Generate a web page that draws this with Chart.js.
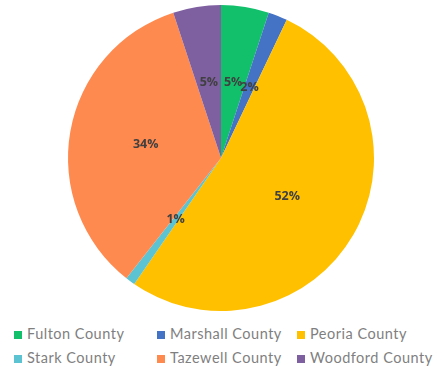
<!DOCTYPE html>
<html>
<head>
<meta charset="utf-8">
<script src="https://cdn.jsdelivr.net/npm/chart.js@4.4.1/dist/chart.umd.min.js"></script>
<style>
  body { margin: 0; background: #fff; width: 439px; height: 377px; overflow: hidden; font-family: Lato, "Open Sans", sans-serif; }
  #wrap { position: relative; width: 439px; height: 320px; }
  #legend { position: absolute; left: 0; top: 324px; width: 439px; }
  .item { position: absolute; font-size: 14.5px; letter-spacing: 0.5px; color: #7f7f7f; white-space: nowrap; line-height: 16px; }
  .item span { display: inline-block; width: 8px; height: 8px; margin-right: 5px; vertical-align: 0px; }
</style>
</head>
<body>
<div id="wrap"><canvas id="pie" width="439" height="320"></canvas></div>
<div id="legend"></div>
<script>
const counties = ['Fulton County', 'Marshall County', 'Peoria County', 'Stark County', 'Tazewell County', 'Woodford County'];
const shares = [5, 2, 52, 1, 34, 5];
const colors = ['#12c06c', '#4472c4', '#ffc000', '#5bc3d1', '#ff8a4f', '#7e5fa0'];

// legend grid: 3 columns, 2 rows
const colX = [14, 157, 297];
const rowY = [2, 26];

// percent labels inside each slice, about halfway out
const sliceLabels = {
  id: 'sliceLabels',
  afterDatasetsDraw(chart) {
    const c = chart.ctx;
    const meta = chart.getDatasetMeta(0);
    c.save();
    c.font = 'bold 12.5px "Open Sans", sans-serif';
    c.fillStyle = '#404040';
    c.textAlign = 'center';
    c.textBaseline = 'middle';
    meta.data.forEach((arc, i) => {
      const p = arc.getProps(['x', 'y', 'startAngle', 'endAngle', 'outerRadius']);
      const mid = (p.startAngle + p.endAngle) / 2;
      const r = p.outerRadius * 0.5;
      c.fillText(shares[i] + '%', p.x + Math.cos(mid) * r, p.y + Math.sin(mid) * r);
    });
    c.restore();
  }
};

new Chart(document.getElementById('pie'), {
  type: 'pie',
  data: {
    labels: counties,
    datasets: [{
      data: shares,
      backgroundColor: colors,
      borderWidth: 0
    }]
  },
  options: {
    responsive: false,
    animation: false,
    layout: { padding: { top: 5, bottom: 9, left: 3, right: 0 } },
    plugins: { legend: { display: false }, tooltip: { enabled: false } }
  },
  plugins: [sliceLabels]
});

const legend = document.getElementById('legend');
counties.forEach((name, i) => {
  const d = document.createElement('div');
  d.className = 'item';
  d.style.left = colX[i % 3] + 'px';
  d.style.top = rowY[Math.floor(i / 3)] + 'px';
  d.innerHTML = '<span style="background:' + colors[i] + '"></span>' + name;
  legend.appendChild(d);
});
</script>
</body>
</html>
